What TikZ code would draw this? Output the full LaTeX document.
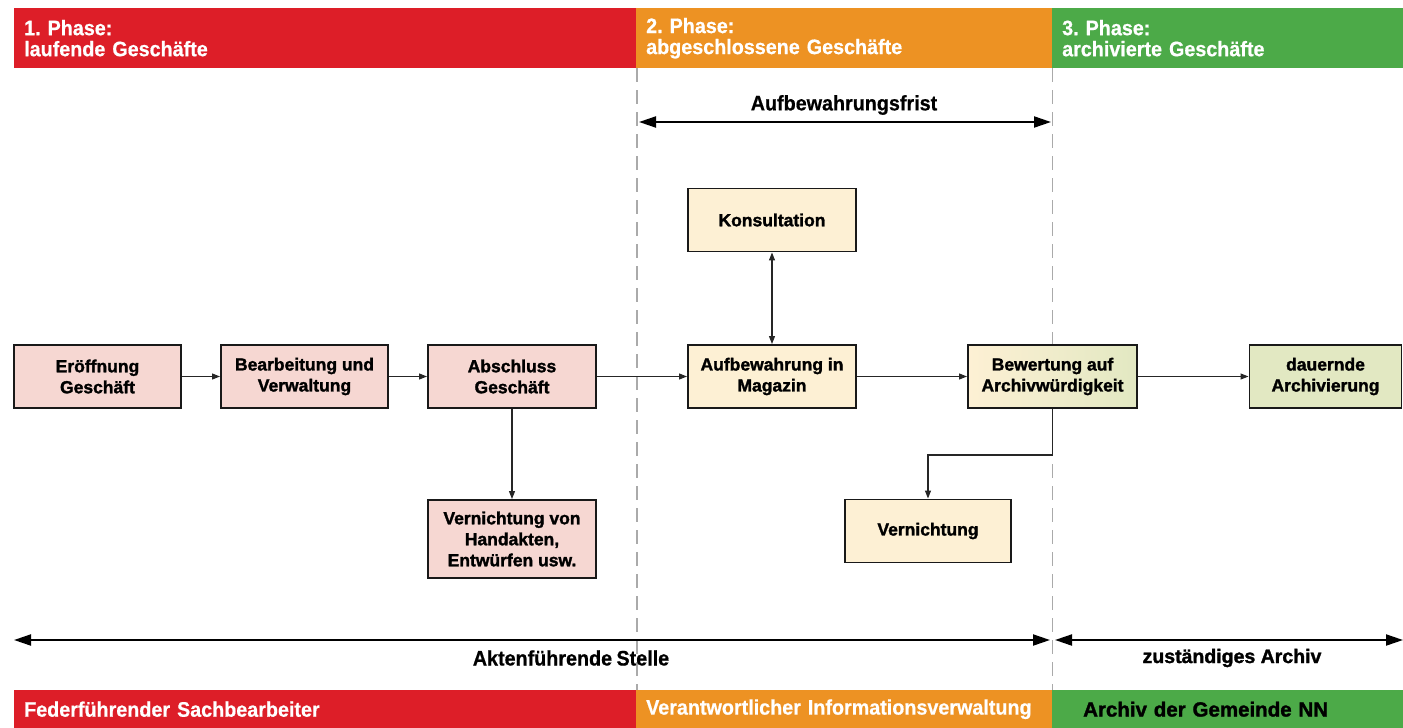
\documentclass[tikz,border=0pt]{standalone}
\usepackage{fontspec}
\usetikzlibrary{arrows.meta}
\frenchspacing
\newfontfamily\narrowfont{Liberation Sans}[UprightFont={* Bold}, FakeStretch=0.94, FakeBold=0.6, WordSpace=0.8]
\newfontfamily\heavyfont{Liberation Sans}[UprightFont={* Bold}, FakeBold=1.6]
\definecolor{phaseeins}{RGB}{221,30,40}
\definecolor{phasezwei}{RGB}{237,146,35}
\definecolor{phasedrei}{RGB}{76,170,72}
\definecolor{rosa}{RGB}{246,215,210}
\definecolor{creme}{RGB}{253,240,212}
\definecolor{hellgruen}{RGB}{226,232,194}
\definecolor{grenze}{RGB}{170,170,170}
\tikzset{
  bar/.style={anchor=north west, inner xsep=10pt, inner ysep=0pt, align=left, text=white,
    font=\narrowfont\fontsize{21}{21}\selectfont},
  kopf/.style={bar, minimum height=60pt},
  fuss/.style={bar, minimum height=38pt},
  box/.style={draw=black!90, line width=1.9pt, align=center, inner sep=0pt, minimum height=63pt,
    font=\heavyfont\fontsize{17.5}{21}\selectfont},
  conn/.style={-{Triangle[length=8pt,width=6pt]}, line width=1.1pt, draw=black!85},
  bothconn/.style={conn, {Triangle[length=8pt,width=6pt]}-{Triangle[length=8pt,width=6pt]}},
  spanne/.style={{Triangle[length=17pt,width=11pt]}-{Triangle[length=17pt,width=11pt]}, line width=2pt},
  spantext/.style={font=\narrowfont\fontsize{21}{21}\selectfont},
  trenn/.style={draw=grenze, line width=1.5pt, dash pattern=on 14pt off 8pt}
}
\begin{document}
\begin{tikzpicture}[x=1pt,y=-1pt]
\useasboundingbox (0,0) rectangle (1403,728);
\node[kopf, fill=phaseeins, text width=602pt] (kopfeins) at (14,8) {1. Phase:\\laufende Geschäfte};
\node[kopf, fill=phasezwei, text width=396pt] (kopfzwei) at (636,8) {2. Phase:\\abgeschlossene Geschäfte};
\node[kopf, fill=phasedrei, text width=331pt] (kopfdrei) at (1052,8) {3. Phase:\\archivierte Geschäfte};
\coordinate (grenzeinsoben) at (637,68);
\coordinate (grenzeinsunten) at (637,690);
\coordinate (grenzzweioben) at (1052.5,68);
\coordinate (grenzzweiunten) at (1052.5,690);
\draw[trenn] (grenzeinsoben) -- (grenzeinsunten);
\draw[trenn] (grenzzweioben) -- (grenzzweiunten);
\coordinate (fristanfang) at (639,122);
\coordinate (fristende) at (1051,122);
\draw[spanne] (fristanfang) -- (fristende);
\node[spantext] (frist) at (844,105) {Aufbewahrungsfrist};
\node[box, fill=rosa, minimum width=167pt] (eroeffnung) at (97.5,376.5) {Eröffnung\\Geschäft};
\node[box, fill=rosa, minimum width=167pt] (bearbeitung) at (304.5,376.5) {Bearbeitung und\\Verwaltung};
\node[box, fill=rosa, minimum width=168pt] (abschluss) at (512,376.5) {Abschluss\\Geschäft};
\node[box, fill=rosa, minimum width=168pt, minimum height=78pt] (handakten) at (512,539) {Vernichtung von\\Handakten,\\Entwürfen usw.};
\node[box, fill=creme, minimum width=168pt] (konsultation) at (772,220) {Konsultation};
\node[box, fill=creme, minimum width=168pt] (aufbewahrung) at (772,376.5) {Aufbewahrung in\\Magazin};
\node[box, left color=creme, right color=hellgruen, minimum width=169pt] (bewertung) at (1052.5,376.5) {Bewertung auf\\Archivwürdigkeit};
\node[box, fill=hellgruen, minimum width=152pt] (archivierung) at (1325.5,376.5) {dauernde\\Archivierung};
\node[box, fill=creme, minimum width=166pt] (vernichtung) at (928,531) {Vernichtung};
\draw[conn] (eroeffnung) -- (bearbeitung);
\draw[conn] (bearbeitung) -- (abschluss);
\draw[conn] (abschluss) -- (aufbewahrung);
\draw[conn] (aufbewahrung) -- (bewertung);
\draw[conn] (bewertung) -- (archivierung);
\draw[conn] (abschluss) -- (handakten);
\draw[bothconn] (aufbewahrung) -- (konsultation);
\coordinate (knick) at (1052.5,455);
\draw[conn] (bewertung) -- (knick) -| (vernichtung);
\coordinate (stelleanfang) at (14,640);
\coordinate (stelleende) at (1050,640);
\coordinate (archivanfang) at (1055,640);
\coordinate (archivende) at (1403,640);
\draw[spanne] (stelleanfang) -- (stelleende);
\draw[spanne] (archivanfang) -- (archivende);
\node[spantext] (stelle) at (571,658) {Aktenführende Stelle};
\node[font=\heavyfont\fontsize{19.5}{21}\selectfont] (archiv) at (1232,658) {zuständiges Archiv};
\node[fuss, fill=phaseeins, text width=602pt] (fusseins) at (14,690) {Federführender Sachbearbeiter};
\node[fuss, fill=phasezwei, text width=396pt] (fusszwei) at (636,690) {Verantwortlicher Informationsverwaltung};
\node[fuss, fill=phasedrei, text=black, inner xsep=31pt, text width=289pt,
  font=\heavyfont\fontsize{20.5}{21}\selectfont] (fussdrei) at (1052,690) {Archiv der Gemeinde NN};
\end{tikzpicture}
\end{document}
